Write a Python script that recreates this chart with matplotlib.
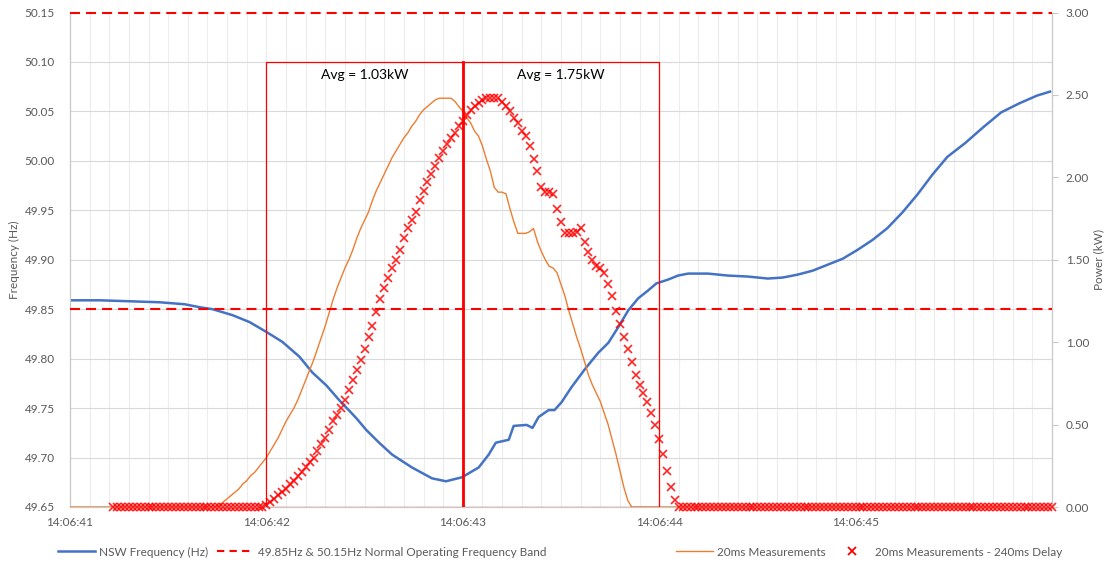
import matplotlib
matplotlib.use("Agg")
import matplotlib.pyplot as plt
import numpy as np
from matplotlib.lines import Line2D
from matplotlib.patches import Rectangle
from matplotlib.ticker import MultipleLocator, FormatStrFormatter

# ---- data (seconds within minute 14:06) ----
freq_time_s = [
    41.000, 41.152, 41.305, 41.457, 41.584, 41.660, 41.726, 41.827, 41.914, 42.000,
    42.081, 42.168, 42.234, 42.305, 42.371, 42.457, 42.508, 42.574, 42.640, 42.741,
    42.843, 42.914, 42.995, 43.081, 43.132, 43.168, 43.234, 43.259, 43.325, 43.355,
    43.386, 43.437, 43.467, 43.503, 43.553, 43.624, 43.690, 43.741, 43.792, 43.843,
    43.893, 43.944, 43.985, 44.046, 44.096, 44.147, 44.249, 44.350, 44.452, 44.553,
    44.629, 44.706, 44.782, 44.858, 44.934, 45.010, 45.086, 45.162, 45.239, 45.315,
    45.391, 45.467, 45.558, 45.650, 45.741, 45.832, 45.924, 45.990,
]
freq_hz = [
    49.859, 49.859, 49.858, 49.857, 49.855, 49.852, 49.850, 49.844, 49.837, 49.827,
    49.817, 49.802, 49.786, 49.773, 49.758, 49.740, 49.728, 49.715, 49.703, 49.690,
    49.679, 49.676, 49.680, 49.690, 49.703, 49.715, 49.718, 49.732, 49.733, 49.730,
    49.741, 49.748, 49.748, 49.756, 49.771, 49.790, 49.806, 49.816, 49.832, 49.849,
    49.861, 49.869, 49.876, 49.880, 49.884, 49.886, 49.886, 49.884, 49.883, 49.881,
    49.882, 49.885, 49.889, 49.895, 49.901, 49.910, 49.920, 49.932, 49.948, 49.966,
    49.986, 50.004, 50.018, 50.034, 50.049, 50.058, 50.066, 50.070,
]

# 20 ms power samples, first sample at 14:06:40.98
power_start_s = 40.98
power_step_s = 0.02
delay_s = 0.24
power_pulse_kw = [
    0.01, 0.03, 0.05, 0.07, 0.09, 0.11, 0.14, 0.16, 0.19, 0.21, 0.24, 0.27, 0.30,
    0.34, 0.38, 0.42, 0.47, 0.52, 0.56, 0.60, 0.65, 0.71, 0.77, 0.83, 0.89,
    0.96, 1.03, 1.10, 1.18, 1.26, 1.33, 1.39, 1.45, 1.50, 1.56, 1.63, 1.69, 1.74,
    1.79, 1.86, 1.92, 1.97, 2.02, 2.07, 2.12, 2.16, 2.20, 2.24, 2.27, 2.31, 2.34,
    2.38, 2.41, 2.43, 2.45, 2.47, 2.48, 2.48, 2.48, 2.48,
    2.46, 2.43, 2.40, 2.36, 2.33, 2.28, 2.25, 2.19, 2.11, 2.04, 1.94, 1.91, 1.91,
    1.90, 1.81, 1.73, 1.66, 1.66, 1.66, 1.67, 1.69, 1.61, 1.55, 1.50, 1.46, 1.45,
    1.42, 1.35, 1.28, 1.19, 1.11, 1.03, 0.96, 0.88, 0.80, 0.74, 0.69, 0.64, 0.57,
    0.50, 0.41, 0.32, 0.22, 0.12, 0.04,
]
power_kw = [0.0] * 39 + power_pulse_kw + [0.0] * 96

band_hz = [49.85, 50.15]
box_edges_s = [42.0, 43.0, 44.0]
box_top_hz = 50.10
box_labels = ["Avg = 1.03kW", "Avg = 1.75kW"]
xtick_s = [41, 42, 43, 44, 45]
xtick_labels = ["14:06:41", "14:06:42", "14:06:43", "14:06:44", "14:06:45"]

# ---- style ----
plt.rcParams["font.family"] = ["Lato", "DejaVu Sans"]
GREY_TXT = "#595959"
BLUE = "#4472c4"
ORANGE = "#ed7d31"
RED = "#ff0000"
DASH = (0, (4.8, 2.9))

fig = plt.figure(figsize=(11.1, 5.67), dpi=100)
ax = fig.add_axes([70 / 1110, 1 - 507 / 567, (1052 - 70) / 1110, (507 - 12.5) / 567])
ax2 = ax.twinx()

power_t = power_start_s + power_step_s * np.arange(len(power_kw))

ax.plot(freq_time_s, freq_hz, color=BLUE, lw=1.8, zorder=3)

ax2.plot(power_t, power_kw, color=ORANGE, lw=1.0, zorder=3)
ax2.plot(power_t + delay_s, power_kw, ls="none", marker="x", ms=5.5, mew=1.2,
         color=RED, alpha=0.85, zorder=4, clip_on=False)

# frequency band lines on top so the one at the upper edge stays red
for b in band_hz:
    ax2.plot([41, 46], [b, b], color=RED, lw=1.5, ls=DASH, zorder=4,
             transform=ax.transData, clip_on=False)

# analysis boxes
lo = 49.65
for (x0, x1), label in zip(zip(box_edges_s[:-1], box_edges_s[1:]), box_labels):
    ax2.add_patch(Rectangle((x0, lo), x1 - x0, box_top_hz - lo, fill=False,
                            edgecolor=RED, lw=0.9, transform=ax.transData, zorder=5))
    ax2.text((x0 + x1) / 2, 50.087, label, transform=ax.transData,
             ha="center", va="center", fontsize=10, color="black", zorder=6)
ax2.plot([box_edges_s[1]] * 2, [lo, box_top_hz], color=RED, lw=2.0,
         transform=ax.transData, zorder=5)

# axes
ax.set_xlim(41, 46)
ax.set_ylim(49.65, 50.15)
ax2.set_ylim(0, 3)
ax.yaxis.set_major_locator(MultipleLocator(0.05))
ax.yaxis.set_major_formatter(FormatStrFormatter("%.2f"))
ax2.yaxis.set_major_locator(MultipleLocator(0.5))
ax2.yaxis.set_major_formatter(FormatStrFormatter("%.2f"))
ax.set_xticks(xtick_s)
ax.set_xticklabels(xtick_labels)
ax.xaxis.set_minor_locator(MultipleLocator(0.1))

ax.grid(axis="y", which="major", color="#d9d9d9", lw=0.8)
ax.grid(axis="x", which="both", color="#ececec", lw=0.8)
ax.set_axisbelow(True)

for a in (ax, ax2):
    for s in a.spines.values():
        s.set_color("#c8c8c8")
        s.set_linewidth(0.8)
    a.spines["top"].set_visible(False)
ax.tick_params(axis="both", which="both", length=0, labelsize=8.5, labelcolor=GREY_TXT)
ax.tick_params(axis="y", pad=11)
ax.tick_params(axis="x", pad=7)
ax2.tick_params(axis="y", length=4, color="#c8c8c8", labelsize=8.5, labelcolor=GREY_TXT, pad=6)

ax.set_ylabel("Frequency (Hz)", fontsize=8.5, color=GREY_TXT, labelpad=3)
ax2.set_ylabel("Power (kW)", fontsize=8.5, color=GREY_TXT, labelpad=3)

# legend
h1 = [Line2D([], [], color=BLUE, lw=1.8),
      Line2D([], [], color=RED, lw=1.5, ls=(0, (3.5, 2.5)))]
h2 = [Line2D([], [], color=ORANGE, lw=1.0),
      Line2D([], [], color=RED, ls="none", marker="x", ms=6, mew=1.3)]
leg_kw = dict(ncol=2, frameon=False, fontsize=8.5, labelcolor=GREY_TXT,
              handlelength=3.1, handletextpad=0.4, columnspacing=0.7, borderpad=0,
              loc="center left")
fig.legend(h1, ["NSW Frequency (Hz)", "49.85Hz & 50.15Hz Normal Operating Frequency Band"],
           bbox_to_anchor=(52 / 1110, 1 - 552 / 567), **leg_kw)
fig.legend(h2, ["20ms Measurements", "20ms Measurements - 240ms Delay"],
           bbox_to_anchor=(670 / 1110, 1 - 552 / 567), **leg_kw)

fig.savefig("out.png", dpi=100)
